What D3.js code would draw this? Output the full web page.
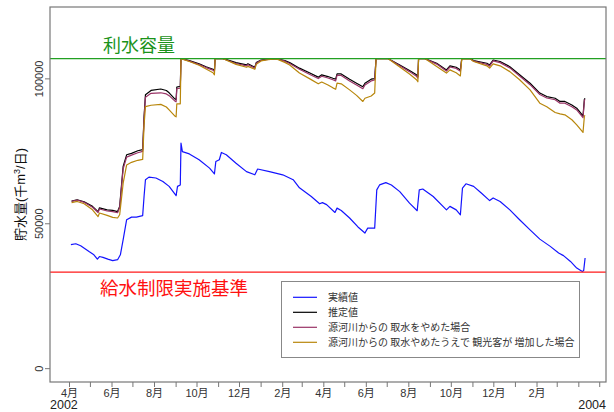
<!DOCTYPE html>
<html>
<head>
<meta charset="utf-8">
<script src="https://cdn.jsdelivr.net/npm/d3@7"></script>
<style>
  body { margin: 0; background: #fff; }
  svg { display: block; font-family: "Liberation Sans", Arial, "Noto Sans CJK JP", sans-serif; }
</style>
</head>
<body>
<svg id="chart" width="614" height="412"></svg>
<script>
// dates shared by the three simulated series
var upperDates = ["2002-04-04","2002-04-12","2002-04-22","2002-05-04","2002-05-12","2002-05-14","2002-05-25","2002-06-02","2002-06-09","2002-06-12",
  "2002-06-17","2002-06-22","2002-06-29","2002-07-08","2002-07-15","2002-07-17","2002-07-19","2002-07-27","2002-08-10","2002-08-18",
  "2002-08-22","2002-08-30","2002-09-01","2002-09-02","2002-09-07","2002-09-08","2002-09-10","2002-09-20","2002-10-04","2002-10-14",
  "2002-10-24","2002-10-26","2002-10-27","2002-11-07","2002-11-10","2002-11-26","2002-12-11","2002-12-13","2002-12-23","2002-12-25",
  "2003-01-01","2003-01-11","2003-01-23","2003-02-04","2003-02-11","2003-02-25","2003-03-12","2003-03-24","2003-03-29","2003-04-07",
  "2003-04-14","2003-04-18","2003-04-20","2003-04-26","2003-05-08","2003-05-18","2003-05-27","2003-05-30","2003-06-08","2003-06-13",
  "2003-06-15","2003-07-02","2003-07-19","2003-08-02","2003-08-12","2003-08-14","2003-08-15","2003-08-24","2003-09-10","2003-09-24",
  "2003-09-29","2003-10-08","2003-10-14","2003-10-16","2003-10-28","2003-11-02","2003-11-21","2003-11-25","2003-11-30","2003-12-10",
  "2003-12-24","2004-01-07","2004-01-22","2004-02-05","2004-02-15","2004-02-27","2004-03-05","2004-03-12","2004-03-22","2004-03-29",
  "2004-04-07","2004-04-09","2004-04-10"]

// 推定値
var estimated = [57800,58300,57600,56000,54200,55500,54800,54600,54200,56000,
  69800,73800,74300,75200,75600,86900,94500,96000,96500,96000,
  95200,93100,92800,97200,97400,107000,106900,106300,105200,104200,
  103300,102900,107000,107000,106800,105600,104800,105200,104000,105600,
  106500,106800,107000,106300,105600,103700,102000,100600,101400,100800,
  100200,99900,101700,101700,99900,98500,97300,98500,99900,100100,
  107000,107000,104800,102900,101400,100800,107000,107000,105400,103100,
  104500,104000,103100,107000,107000,106300,105400,104800,106500,106000,
  104200,101400,98500,95100,93900,93300,92200,92200,91000,89900,
  87200,93000,93300]

// 源河川からの取水をやめた場合
var noIntake = [57700,58200,57400,55700,53900,55100,54400,54200,53800,55600,
  69000,73000,73700,74500,75000,86300,93700,95000,95200,94800,
  94200,92400,92100,96600,96800,107000,106900,106100,104900,103900,
  103000,102500,107000,107000,106700,105300,104500,104900,103700,105400,
  106400,106700,107000,106100,105300,103300,101500,100100,100900,100300,
  99700,99300,101200,101200,99300,97900,96600,97900,99300,99600,
  107000,107000,104500,102500,100900,100300,107000,107000,105100,102700,
  104100,103600,102600,107000,107000,106100,105000,104400,106200,105600,
  103800,101000,98000,94600,93400,92800,91600,91600,90400,89300,
  86600,92600,92900]

// 源河川からの取水やめたうえで観光客が増加した場合
var noIntakeTourists = [57300,57700,56900,54800,52500,53700,52900,52200,52000,53100,
  64000,70300,71200,71900,72200,84000,90400,90900,91200,90300,
  89300,87200,86900,91400,91400,107000,106800,106000,104700,103400,
  102100,101400,107000,107000,106700,105000,104000,104300,103300,105000,
  106200,106600,106900,105700,104800,102000,100000,98300,98900,97900,
  96900,96400,98500,98300,96200,94300,92200,93300,94100,95100,
  107000,107000,104100,101700,99700,99000,107000,107000,104300,102000,
  103100,102100,101000,107000,106900,106000,104500,103700,105200,104500,
  102500,99700,96200,91600,90400,88400,87900,87600,85900,84100,
  81500,87200,87400]

// 実績値
var actualDates = ["2002-04-03","2002-04-10","2002-04-17","2002-04-29","2002-05-06","2002-05-11","2002-05-14","2002-05-19","2002-05-26","2002-06-02",
  "2002-06-09","2002-06-13","2002-06-17","2002-06-22","2002-06-29","2002-07-06","2002-07-15","2002-07-17","2002-07-19","2002-07-24",
  "2002-08-03","2002-08-13","2002-08-22","2002-09-01","2002-09-03","2002-09-07","2002-09-08","2002-09-10","2002-09-20","2002-10-04",
  "2002-10-19","2002-10-26","2002-10-28","2002-11-02","2002-11-05","2002-11-12","2002-11-26","2002-12-11","2002-12-23","2002-12-27",
  "2003-01-13","2003-02-01","2003-02-16","2003-02-25","2003-03-14","2003-03-26","2003-03-30","2003-04-05","2003-04-17","2003-04-20",
  "2003-04-26","2003-05-08","2003-05-20","2003-05-30","2003-06-03","2003-06-13","2003-06-16","2003-06-20","2003-06-29","2003-07-07",
  "2003-07-19","2003-08-02","2003-08-13","2003-08-16","2003-08-21","2003-09-05","2003-09-24","2003-09-29","2003-10-08","2003-10-14",
  "2003-10-17","2003-10-22","2003-11-02","2003-11-13","2003-11-25","2003-11-30","2003-12-10","2003-12-24","2004-01-07","2004-01-22",
  "2004-02-05","2004-02-20","2004-03-03","2004-03-10","2004-03-20","2004-03-29","2004-04-06","2004-04-08","2004-04-10"]
var actual = [42800,43100,42400,40400,39300,37800,38700,38400,37800,37300,
  37600,39300,44500,51400,52300,52300,52800,59400,65200,66100,
  65800,64600,62900,59700,62900,63400,77800,74900,74100,72100,
  69200,67200,71500,72100,74600,73800,70900,68000,66900,68900,
  68000,66900,65200,62400,59400,56900,57300,56600,53900,55400,
  54600,52000,48900,46800,48500,48500,61700,63400,64200,63400,
  61100,57100,54500,61700,62000,59400,54800,56000,54800,53100,
  62300,63800,62900,60600,58000,58900,57700,54800,51400,47900,
  44700,42200,39900,39000,37000,34700,33500,33900,38200]

var capacity = 107000          // 利水容量
var restrictionLevel = 33300   // 給水制限実施基準
var yTicks = [0, 50000, 100000]

var seriesNames = ["実績値", "推定値", "源河川からの 取水をやめた場合", "源河川からの 取水やめたうえで 観光客が 増加した場合"]
var seriesColors = ["#1414ff", "#000000", "#993366", "#b8860b"]

// plot box (note: "top" is reserved on window, so use prefixed names)
var plotLeft = 50, plotRight = 606, plotTop = 7, plotBottom = 382

var parse = d3.timeParse("%Y-%m-%d")
var svg = d3.select("#chart")

var x = d3.scaleTime()
    .domain([new Date(2002, 2, 4), new Date(2004, 4, 10)])
    .range([plotLeft, plotRight])
var y = d3.scaleLinear()
    .domain([-4600, 124800])
    .range([plotBottom, plotTop])

// series as arrays of {date, value}
var zip = (dates, vals) => dates.map((d, i) => ({ date: parse(d), value: vals[i] }))
var series = [
  zip(actualDates, actual),
  zip(upperDates, estimated),
  zip(upperDates, noIntake),
  zip(upperDates, noIntakeTourists)
]

var line = d3.line()
    .x(d => x(d.date))
    .y(d => y(d.value))

svg.append("g")
  .selectAll("path")
  .data(series)
  .enter()
  .append("path")
    .attr("d", line)
    .attr("fill", "none")
    .attr("stroke", (d, i) => seriesColors[i])
    .attr("stroke-width", 1.2)
    .attr("stroke-linejoin", "round")

// reference lines
svg.append("line")
    .attr("x1", plotLeft).attr("x2", plotRight)
    .attr("y1", y(capacity)).attr("y2", y(capacity))
    .attr("stroke", "#22a022").attr("stroke-width", 1.3)
svg.append("line")
    .attr("x1", plotLeft).attr("x2", plotRight)
    .attr("y1", y(restrictionLevel)).attr("y2", y(restrictionLevel))
    .attr("stroke", "#ff1a1a").attr("stroke-width", 1.3)

svg.append("text")
    .attr("x", 103).attr("y", 52)
    .attr("fill", "#1a931a")
    .style("font-size", "18px")
    .style("font-family", "'Noto Sans CJK JP', sans-serif")
    .text("利水容量")
svg.append("text")
    .attr("x", 100).attr("y", 295)
    .attr("fill", "#ff1010")
    .style("font-size", "18.5px")
    .style("font-family", "'Noto Sans CJK JP', sans-serif")
    .text("給水制限実施基準")

// frame
svg.append("rect")
    .attr("x", plotLeft).attr("y", plotTop)
    .attr("width", plotRight - plotLeft).attr("height", plotBottom - plotTop)
    .attr("fill", "none")
    .attr("stroke", "#777")
    .attr("stroke-width", 1.2)

// y axis
var yAxis = svg.append("g")
yAxis.selectAll("line")
  .data(yTicks)
  .enter()
  .append("line")
    .attr("x1", plotLeft - 5).attr("x2", plotLeft)
    .attr("y1", d => y(d)).attr("y2", d => y(d))
    .attr("stroke", "#777")
yAxis.selectAll("text")
  .data(yTicks)
  .enter()
  .append("text")
    .attr("transform", d => "translate(42.5," + y(d) + ") rotate(-90)")
    .attr("text-anchor", "middle")
    .attr("fill", "#333")
    .style("font-size", "11px")
    .text(d => d)

var title = svg.append("text")
    .attr("transform", "translate(25," + ((plotTop + plotBottom) / 2) + ") rotate(-90)")
    .attr("text-anchor", "middle")
    .attr("fill", "#111")
    .style("font-size", "13px")
title.append("tspan").text("貯水量(千m")
title.append("tspan").attr("dy", -5).style("font-size", "9px").text("3")
title.append("tspan").attr("dy", 5).text("/日)")

// x axis: monthly ticks, labels every two months
var months = d3.timeMonth.range(new Date(2002, 3, 1), new Date(2004, 4, 2))
var xAxis = svg.append("g")
xAxis.selectAll("line")
  .data(months)
  .enter()
  .append("line")
    .attr("x1", d => x(d)).attr("x2", d => x(d))
    .attr("y1", plotBottom).attr("y2", plotBottom + 5)
    .attr("stroke", "#777")
xAxis.selectAll("text")
  .data(months.filter((d, i) => i % 2 == 0 && i < 24))
  .enter()
  .append("text")
    .attr("x", d => x(d))
    .attr("y", 397)
    .attr("text-anchor", "middle")
    .attr("fill", "#333")
    .style("font-size", "11px")
    .text(d => (d.getMonth() + 1) + "月")

svg.append("text")
    .attr("x", plotLeft).attr("y", 408.5)
    .attr("fill", "#222")
    .style("font-size", "12.5px")
    .text("2002")
svg.append("text")
    .attr("x", plotRight).attr("y", 408.5)
    .attr("text-anchor", "end")
    .attr("fill", "#222")
    .style("font-size", "12.5px")
    .text("2004")

// legend
var legend = svg.append("g")
legend.append("rect")
    .attr("x", 281.5).attr("y", 281.5)
    .attr("width", 298).attr("height", 76)
    .attr("fill", "#fff")
    .attr("stroke", "#888")
var rows = legend.selectAll("g.row")
  .data(seriesNames)
  .enter()
  .append("g")
    .attr("class", "row")
    .attr("transform", (d, i) => "translate(0," + (297.3 + i * 15) + ")")
rows.append("line")
    .attr("x1", 293).attr("x2", 317)
    .attr("stroke", (d, i) => seriesColors[i])
    .attr("stroke-width", 1.2)
rows.append("text")
    .attr("x", 328)
    .attr("dy", "0.35em")
    .attr("fill", "#333")
    .style("font-size", "10px")
    .style("font-family", "'Noto Sans CJK JP', sans-serif")
    .text(d => d)
</script>
</body>
</html>
